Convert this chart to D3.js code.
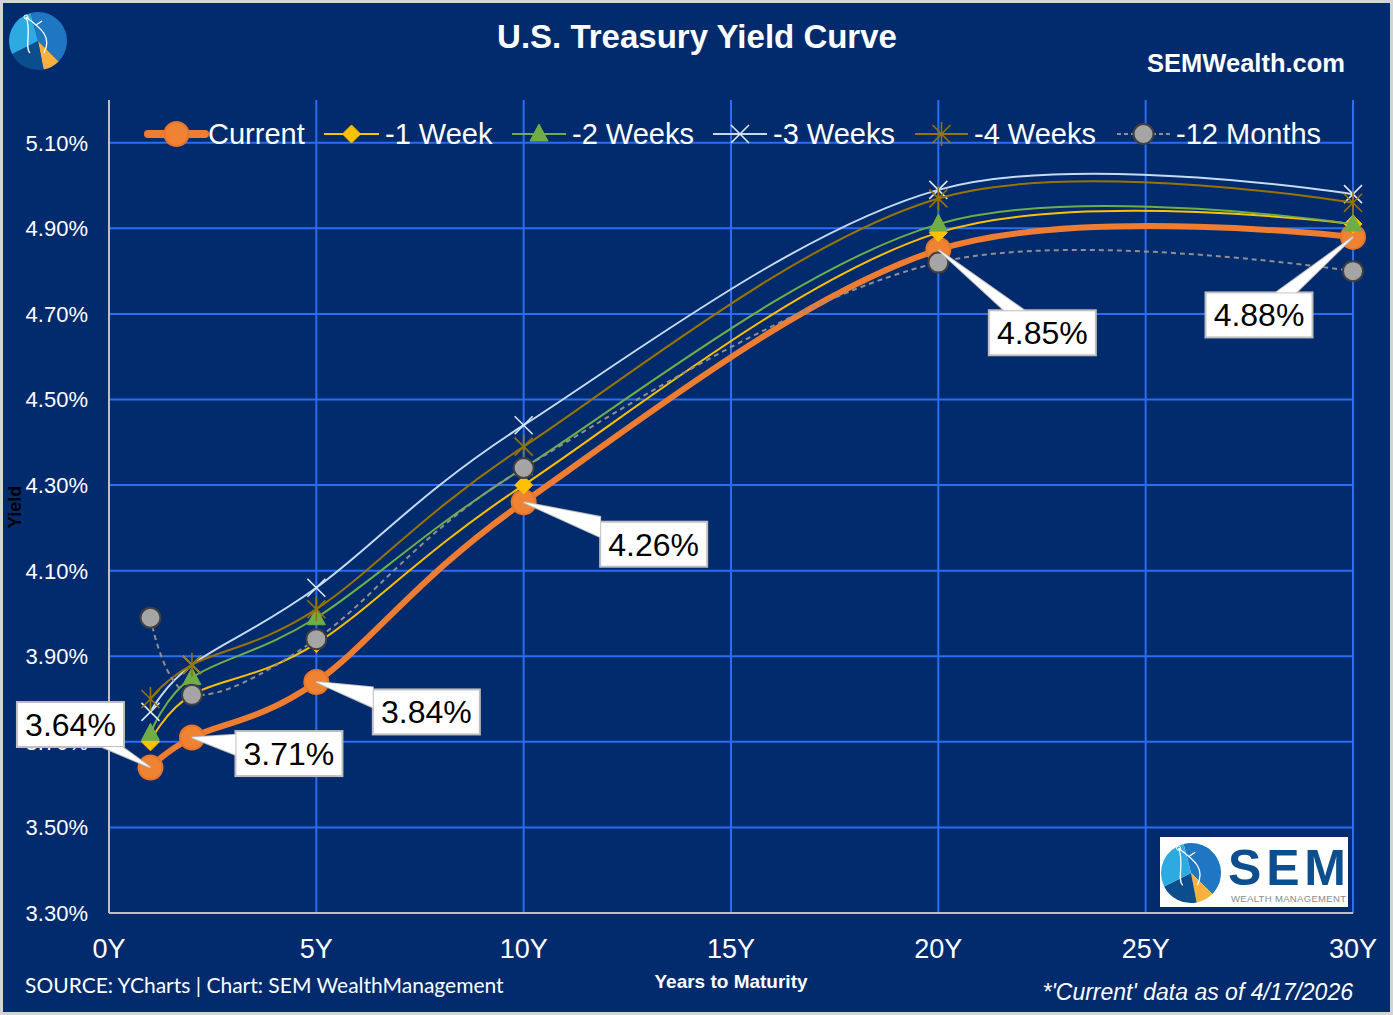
<!DOCTYPE html>
<html>
<head>
<meta charset="utf-8">
<script src="https://cdn.jsdelivr.net/npm/d3@7"></script>
<style>
  html, body { margin: 0; padding: 0; background: #d9d9d9; }
  svg { display: block; }
</style>
</head>
<body>
<div class="yieldChart"></div>
<script>
// maturities in years and yields (%)
var maturities = [1, 2, 5, 10, 20, 30];
var current   = [3.64, 3.71, 3.84, 4.26, 4.85, 4.88];
var week1     = [3.70, 3.81, 3.93, 4.30, 4.89, 4.91];
var weeks2    = [3.72, 3.85, 3.99, 4.34, 4.91, 4.91];
var weeks3    = [3.77, 3.88, 4.06, 4.44, 4.99, 4.98];
var weeks4    = [3.80, 3.88, 4.01, 4.39, 4.97, 4.96];
var months12  = [3.99, 3.81, 3.94, 4.34, 4.82, 4.80];
var seriesNames = ["Current", "-1 Week", "-2 Weeks", "-3 Weeks", "-4 Weeks", "-12 Months"];
var yTicks = [3.30, 3.50, 3.70, 3.90, 4.10, 4.30, 4.50, 4.70, 4.90, 5.10];
var xTicks = [0, 5, 10, 15, 20, 25, 30];
var xTickLabels = ["0Y", "5Y", "10Y", "15Y", "20Y", "25Y", "30Y"];

var W = 1393, H = 1015;
var margin = {top: 100, left: 109, right: 40, bottom: 102};

var svg = d3.select(".yieldChart").append("svg")
    .attr("width", W)
    .attr("height", H);

// background + light frame
svg.append("rect")
    .attr("x", 1.5).attr("y", 1.5)
    .attr("width", W - 3).attr("height", H - 3)
    .attr("fill", "#012b6d")
    .attr("stroke", "#d4d4d4")
    .attr("stroke-width", 3);

var x = d3.scaleLinear().domain([0, 30]).range([margin.left, W - margin.right]);
var y = d3.scaleLinear().domain([3.30, 5.20]).range([H - margin.bottom, margin.top]);

var font = "'Liberation Sans', Arial, sans-serif";

// grid
svg.append("g").selectAll("line.h")
    .data(yTicks.slice(1))
    .enter().append("line")
    .attr("x1", x(0)).attr("x2", x(30))
    .attr("y1", function(d) { return y(d); })
    .attr("y2", function(d) { return y(d); })
    .attr("stroke", "#2a6df4")
    .attr("stroke-width", 2);

svg.append("g").selectAll("line.v")
    .data(xTicks.slice(1))
    .enter().append("line")
    .attr("y1", y(5.20)).attr("y2", y(3.30))
    .attr("x1", function(d) { return x(d); })
    .attr("x2", function(d) { return x(d); })
    .attr("stroke", "#2a6df4")
    .attr("stroke-width", 2);

// axes lines
svg.append("line")
    .attr("x1", x(0)).attr("x2", x(0))
    .attr("y1", y(5.20)).attr("y2", y(3.30))
    .attr("stroke", "#bfbfbf").attr("stroke-width", 2);
svg.append("line")
    .attr("x1", x(0)).attr("x2", x(30))
    .attr("y1", y(3.30)).attr("y2", y(3.30))
    .attr("stroke", "#bfbfbf").attr("stroke-width", 2);

// tick labels
svg.append("g").selectAll("text")
    .data(yTicks)
    .enter().append("text")
    .attr("x", 88)
    .attr("y", function(d) { return y(d); })
    .attr("dy", "0.36em")
    .attr("text-anchor", "end")
    .attr("fill", "#ffffff")
    .style("font", "22px " + font)
    .text(function(d) { return d3.format(".2f")(d) + "%"; });

svg.append("g").selectAll("text")
    .data(xTicks)
    .enter().append("text")
    .attr("x", function(d) { return x(d); })
    .attr("y", 958)
    .attr("text-anchor", "middle")
    .attr("fill", "#ffffff")
    .style("font", "27px " + font)
    .text(function(d, i) { return xTickLabels[i]; });

// axis titles
svg.append("text")
    .attr("transform", "translate(21,507) rotate(-90)")
    .attr("text-anchor", "middle")
    .attr("fill", "#000000")
    .style("font", "bold 18px " + font)
    .text("Yield");

svg.append("text")
    .attr("x", 731).attr("y", 988)
    .attr("text-anchor", "middle")
    .attr("fill", "#ffffff")
    .style("font", "bold 19px " + font)
    .text("Years to Maturity");

// titles
svg.append("text")
    .attr("x", 697).attr("y", 48)
    .attr("text-anchor", "middle")
    .attr("fill", "#ffffff")
    .style("font", "bold 33px " + font)
    .text("U.S. Treasury Yield Curve");

svg.append("text")
    .attr("x", 1345).attr("y", 72)
    .attr("text-anchor", "end")
    .attr("fill", "#ffffff")
    .style("font", "bold 25.5px " + font)
    .text("SEMWealth.com");

svg.append("text")
    .attr("x", 25).attr("y", 993)
    .attr("fill", "#ffffff")
    .style("font", "21px Lato, 'Open Sans', sans-serif")
    .text("SOURCE: YCharts | Chart: SEM WealthManagement");

svg.append("text")
    .attr("x", 1353).attr("y", 1000)
    .attr("text-anchor", "end")
    .attr("fill", "#ffffff")
    .style("font", "italic 23px " + font)
    .text("*'Current' data as of 4/17/2026");

// marker shapes
function markerPath(type) {
    if (type === "diamond") return "M0,-9L9,0L0,9L-9,0Z";
    if (type === "triangle") return "M0,-10L9,7L-9,7Z";
    if (type === "x") return "M-9,-9L9,9M-9,9L9,-9";
    if (type === "asterisk") return "M-9,-9L9,9M-9,9L9,-9M0,-12L0,12";
    return null;
}

var series = [
    {name: seriesNames[0], values: current,  color: "#ef7d31", width: 6, marker: "circle", r: 12, fill: "#f08234", stroke: "#e5762a", dash: null},
    {name: seriesNames[1], values: week1,    color: "#ffc000", width: 2, marker: "diamond", fill: "#ffc000", stroke: "#ffc000", dash: null},
    {name: seriesNames[2], values: weeks2,   color: "#70ad47", width: 2, marker: "triangle", fill: "#70ad47", stroke: "#70ad47", dash: null},
    {name: seriesNames[3], values: weeks3,   color: "#c5dbf2", width: 2, marker: "x", fill: "none", stroke: "#dbe8f7", dash: null},
    {name: seriesNames[4], values: weeks4,   color: "#997300", width: 2, marker: "asterisk", fill: "none", stroke: "#997300", dash: null},
    {name: seriesNames[5], values: months12, color: "#8f8f8f", width: 2, marker: "circle", r: 10, fill: "#a5a5a5", stroke: "#3f3f3f", dash: "5,4"}
];

var line = d3.line()
    .x(function(d) { return x(d[0]); })
    .y(function(d) { return y(d[1]); })
    .curve(d3.curveCardinal.tension(0));

function drawMarker(g, s, cx, cy) {
    if (s.marker === "circle") {
        g.append("circle")
            .attr("cx", cx).attr("cy", cy).attr("r", s.r)
            .attr("fill", s.fill)
            .attr("stroke", s.stroke)
            .attr("stroke-width", 2);
    } else {
        g.append("path")
            .attr("transform", "translate(" + cx + "," + cy + ")")
            .attr("d", markerPath(s.marker))
            .attr("fill", s.fill)
            .attr("stroke", s.stroke)
            .attr("stroke-width", s.marker === "x" || s.marker === "asterisk" ? 1.6 : 1);
    }
}

var plot = svg.append("g").attr("class", "series");
series.forEach(function(s) {
    var pts = maturities.map(function(m, i) { return [m, s.values[i]]; });
    var g = plot.append("g");
    g.append("path")
        .datum(pts)
        .attr("d", line)
        .attr("fill", "none")
        .attr("stroke", s.color)
        .attr("stroke-width", s.width)
        .attr("stroke-dasharray", s.dash);
    pts.forEach(function(p) { drawMarker(g, s, x(p[0]), y(p[1])); });
});

// legend
var legendX = [148, 324, 512, 713, 915, 1117];
var legendLen = [57, 55, 54, 54, 53, 53];
var legend = svg.append("g").attr("class", "legend");
series.forEach(function(s, i) {
    var lx = legendX[i], ly = 134;
    var len = legendLen[i];
    var g = legend.append("g");
    g.append("line")
        .attr("x1", lx).attr("x2", lx + len)
        .attr("y1", ly).attr("y2", ly)
        .attr("stroke", s.color)
        .attr("stroke-width", i === 0 ? 8 : 2)
        .attr("stroke-linecap", i === 0 ? "round" : "butt")
        .attr("stroke-dasharray", s.dash ? "4,3" : null);
    drawMarker(g, s, lx + len / 2, ly);
    g.append("text")
        .attr("x", lx + len + (i === 0 ? 3 : 6))
        .attr("y", ly)
        .attr("dy", "0.36em")
        .attr("fill", "#ffffff")
        .style("font", "29px " + font)
        .text(s.name);
});

// data labels for the current curve (callouts)
var labelOffsets = [[-80, -43], [97, 16], [110, 30], [130, 42], [104, 83], [-94, 78]];
var boxW = 107, boxH = 45, base = 20;
var labels = svg.append("g").attr("class", "labels");
current.forEach(function(v, i) {
    var px = x(maturities[i]), py = y(v);
    var cx = px + labelOffsets[i][0], cy = py + labelOffsets[i][1];
    var dx = px - cx, dy = py - cy;
    var t = Math.min((boxW / 2) / Math.abs(dx), (boxH / 2) / Math.abs(dy));
    var ex = cx + dx * t, ey = cy + dy * t;
    var wedge;
    if ((boxW / 2) / Math.abs(dx) < (boxH / 2) / Math.abs(dy)) {
        wedge = [[px, py], [ex, ey - base / 2], [ex, ey + base / 2]];
    } else {
        wedge = [[px, py], [ex - base / 2, ey], [ex + base / 2, ey]];
    }
    var g = labels.append("g");
    var wp = "M" + wedge.join("L") + "Z";
    g.append("path").attr("d", wp).attr("fill", "#ffffff").attr("stroke", "#bfbfbf").attr("stroke-width", 2);
    g.append("rect")
        .attr("x", cx - boxW / 2).attr("y", cy - boxH / 2)
        .attr("width", boxW).attr("height", boxH)
        .attr("fill", "#ffffff").attr("stroke", "#bfbfbf").attr("stroke-width", 2);
    g.append("path").attr("d", wp).attr("fill", "#ffffff");
    g.append("text")
        .attr("x", cx).attr("y", cy)
        .attr("dy", "0.36em")
        .attr("text-anchor", "middle")
        .attr("fill", "#000000")
        .style("font", "32px " + font)
        .text(d3.format(".2f")(v) + "%");
});

// SEM logo mark
function drawLogo(parent, cx, cy, r) {
    var g = parent.append("g").attr("transform", "translate(" + cx + "," + cy + ")");
    var arc = d3.arc().innerRadius(0).outerRadius(r);
    var parts = [
        {a0: -0.25, a1: 2.35, c: "#1f77c4"},
        {a0: 2.35, a1: 2.95, c: "#fbb040"},
        {a0: 2.95, a1: 4.25, c: "#0b4d8d"},
        {a0: 4.25, a1: 6.03, c: "#2eaae2"}
    ];
    parts.forEach(function(p) {
        g.append("path")
            .attr("d", arc({startAngle: p.a0, endAngle: p.a1}))
            .attr("fill", p.c);
    });
    var k = r / 29;
    g.append("path")
        .attr("d", "M" + (-12 * k) + "," + (-24 * k) + "C" + (-6 * k) + "," + (-10 * k) + " " + (-14 * k) + "," + (6 * k) + " " + (-8 * k) + "," + (12 * k)
            + "M" + (-12 * k) + "," + (-24 * k) + "C" + (4 * k) + "," + (-12 * k) + " " + (14 * k) + "," + (-4 * k) + " " + (6 * k) + "," + (12 * k)
            + "M" + (-2 * k) + "," + (-16 * k) + "L" + (4 * k) + "," + (-20 * k))
        .attr("fill", "none")
        .attr("stroke", "#ffffff")
        .attr("stroke-width", 1.3);
    g.append("circle").attr("cx", -12 * k).attr("cy", -24 * k).attr("r", 2 * k)
        .attr("fill", "none").attr("stroke", "#ffffff").attr("stroke-width", 1);
}

drawLogo(svg, 38, 41, 29);

var badge = svg.append("g");
badge.append("rect")
    .attr("x", 1160).attr("y", 837).attr("width", 188).attr("height", 70)
    .attr("fill", "#ffffff");
drawLogo(badge, 1191, 873, 30);
badge.append("text")
    .attr("x", 1228).attr("y", 885)
    .attr("fill", "#0d4e8f")
    .style("font", "bold 50px " + font)
    .attr("textLength", 118)
    .text("SEM");
badge.append("text")
    .attr("x", 1231).attr("y", 902)
    .attr("fill", "#8a8a8a")
    .style("font", "9.5px " + font)
    .attr("textLength", 115)
    .text("WEALTH MANAGEMENT");
</script>
</body>
</html>
